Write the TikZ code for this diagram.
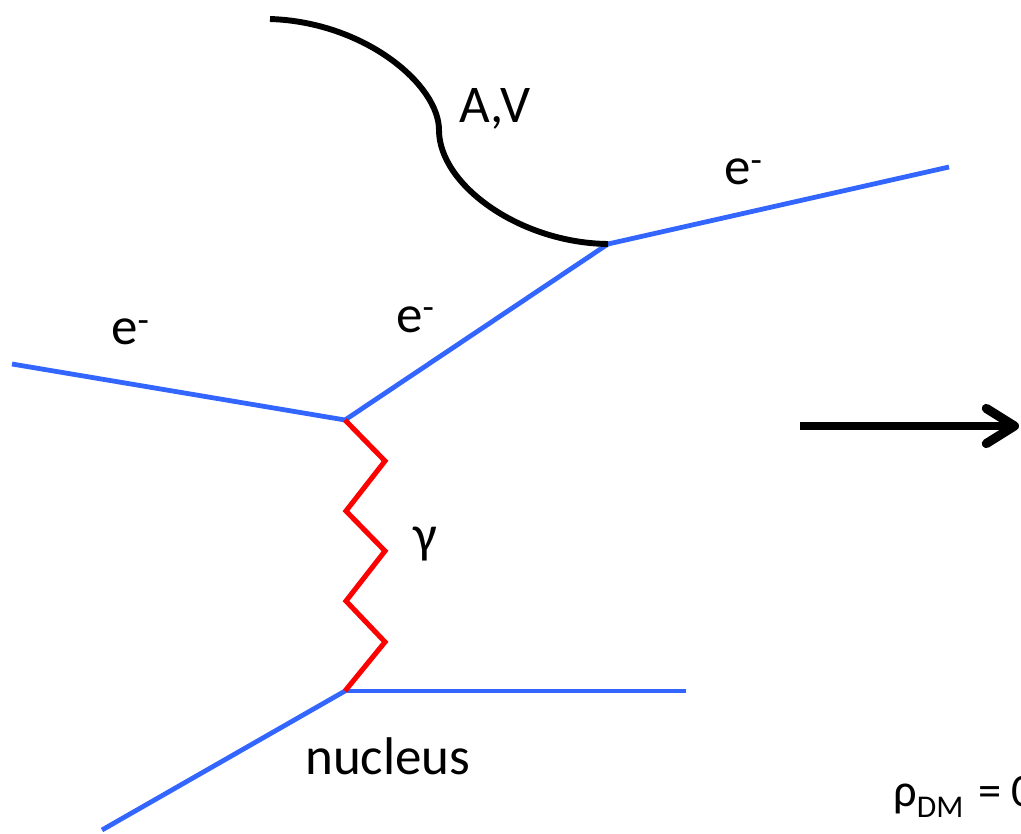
\documentclass[tikz,border=0pt]{standalone}
\usepackage{fontspec}
\setmainfont{Carlito}
\usetikzlibrary{arrows.meta}
\definecolor{FermBlue}{HTML}{3366FF}
\definecolor{PhotRed}{HTML}{FF0000}
\tikzset{
  every picture/.append style={font=\fontsize{37.7}{44}\selectfont},
  ferm/.style={draw=FermBlue, line width=3.4pt},
  phot/.style={draw=PhotRed, line width=3.6pt, line join=miter},
  dark/.style={draw=black, line width=4.2pt},
  lbl/.style={inner sep=0pt, anchor=base},
  bigarr/.style={draw=black, line width=5.3pt,
    -{Straight Barb[length=20pt,width=25pt,line width=6.5pt,line cap=round,round]}},
}
\begin{document}
\begin{tikzpicture}[x=0.025cm,y=-0.025cm]
\useasboundingbox (0,0) rectangle (1021,834);

% ======================= vertices ================================
\coordinate (inE) at (12,364);
\coordinate (vA) at (345,420);
\coordinate (vB) at (608,244);
\coordinate (outE) at (949,167);
\coordinate (vN) at (345,691);
\coordinate (inN) at (102,830);
\coordinate (outN) at (686,691);
\coordinate (dmEnd) at (270,19);
\coordinate (arrA) at (800,426);
\coordinate (arrB) at (1019,426);

% ======================= lines ===================================
\draw[ferm] (inE) -- (vA);
\draw[ferm] (vA) -- (vB);
\draw[ferm] (vB) -- (outE);
\draw[ferm] (inN) -- (vN);
\draw[ferm] (vN) -- (outN);
% photon zigzag
\draw[phot] (vA) -- (385,461) -- (346,511) -- (385,551) -- (346,601) -- (385,642) -- (vN);
% dark boson
\draw[dark] (dmEnd) .. controls (365,22) and (439,85) .. (439,130)
  .. controls (439,185) and (520,243) .. (vB);
\draw[bigarr] (arrA) -- (arrB);

% ======================= labels ==================================
\node[lbl, anchor=base west] (lAV) at (459,123) {A,V};
\node[lbl, anchor=base west] (lE1) at (724,185) {e\textsuperscript{-}};
\node[lbl, anchor=base west] (lE2) at (396,332) {e\textsuperscript{-}};
\node[lbl, anchor=base west] (lE3) at (111,345) {e\textsuperscript{-}};
\node[lbl, anchor=base west] (lGam) at (413,552) {γ};
\node[lbl, anchor=base west] (lNuc) at (305,774) {nucleus};
\node[lbl, anchor=base west, font=\fontsize{33}{40}\selectfont] (lRho) at (893,806)
  {ρ\raisebox{-8pt}{\fontsize{22.5}{26}\selectfont DM}\hspace{3pt} = 0};

\end{tikzpicture}
\end{document}
